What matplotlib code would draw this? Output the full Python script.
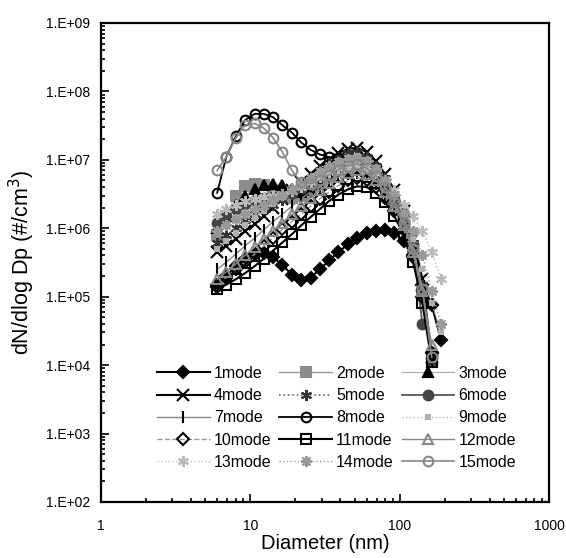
import matplotlib
matplotlib.use('Agg')
import matplotlib.pyplot as plt
from matplotlib.ticker import LogLocator, FixedLocator, FixedFormatter, NullFormatter

plt.rcParams['font.family'] = ['Liberation Sans', 'DejaVu Sans']

# particle diameter grid (nm)
diam = [6.0, 6.9, 8.0, 9.2, 10.7, 12.3, 14.2, 16.4, 19.0, 21.9, 25.3, 29.2, 33.7,
        38.9, 45.0, 51.9, 60.0, 69.2, 80.0, 92.3, 106.6, 123.1, 142.1, 164.1, 189.5]

mode1 = [1.4e5, 2.0e5, 2.8e5, 3.5e5, 4.2e5, 4.4e5, 3.8e5, 2.9e5, 2.1e5, 1.75e5, 1.9e5, 2.5e5, 3.4e5,
         4.5e5, 5.8e5, 7.2e5, 8.4e5, 9.2e5, 9.3e5, 8.5e5, 6.5e5, 3.8e5, 1.5e5, 7.5e4, 2.3e4]
mode2 = [8e5, 1.5e6, 3.0e6, 4.2e6, 4.5e6, 4.3e6, 3.6e6, 3.0e6, 2.8e6, 3.0e6, 3.6e6, 4.6e6, 6.0e6,
         7.6e6, 9.0e6, 9.8e6, 8.5e6, 6.2e6, 4.2e6, 2.6e6, 1.4e6, 5.5e5, 1.3e5, 1.2e4]
mode3 = [1.0e6, 1.5e6, 2.2e6, 3.0e6, 3.8e6, 4.3e6, 4.5e6, 4.3e6, 3.8e6, 3.4e6, 3.6e6, 4.5e6, 6.0e6,
         8.0e6, 1.0e7, 1.1e7, 9.0e6, 6.8e6, 4.5e6, 2.8e6, 1.5e6, 6e5, 1.5e5, 1.5e4]
mode4 = [4.5e5, 5.5e5, 7e5, 9e5, 1.15e6, 1.5e6, 2.0e6, 2.7e6, 3.6e6, 4.8e6, 6.3e6, 8.0e6, 1.0e7,
         1.25e7, 1.45e7, 1.5e7, 1.3e7, 9.5e6, 6.2e6, 3.6e6, 1.8e6, 7e5, 1.8e5, 1.3e4]
mode5 = [6e5, 8e5, 1.0e6, 1.3e6, 1.6e6, 1.9e6, 2.2e6, 2.6e6, 3.2e6, 4.2e6, 5.5e6, 7.2e6, 9.0e6,
         1.1e7, 1.25e7, 1.3e7, 1.1e7, 8.2e6, 5.4e6, 3.2e6, 1.6e6, 6e5, 1.5e5, 1.1e4]
mode6 = [1.2e6, 1.5e6, 1.9e6, 2.3e6, 2.6e6, 2.8e6, 2.9e6, 3.0e6, 3.3e6, 3.9e6, 4.8e6, 6.0e6, 7.5e6,
         9.0e6, 1.0e7, 1.05e7, 9.0e6, 6.8e6, 4.5e6, 2.7e6, 1.4e6, 5.5e5, 4e4]
mode7 = [2.5e5, 3.2e5, 4.2e5, 5.5e5, 7.2e5, 9.5e5, 1.25e6, 1.6e6, 2.1e6, 2.7e6, 3.4e6, 4.2e6, 5.0e6,
         5.8e6, 6.3e6, 6.5e6, 5.7e6, 4.4e6, 3.0e6, 1.9e6, 1.0e6, 4e5, 1e5, 1.2e4]
mode8 = [3.3e6, 1.1e7, 2.2e7, 3.8e7, 4.7e7, 4.7e7, 4.2e7, 3.2e7, 2.5e7, 1.8e7, 1.4e7, 1.2e7, 1.1e7,
         1.05e7, 1.0e7, 9.5e6, 8.0e6, 6.0e6, 4.0e6, 2.4e6, 1.2e6, 4.5e5, 1.2e5, 1.4e4]
mode9 = [5e5, 6.5e5, 8.5e5, 1.1e6, 1.4e6, 1.8e6, 2.3e6, 2.9e6, 3.6e6, 4.5e6, 5.5e6, 6.8e6, 8.2e6,
         9.6e6, 1.08e7, 1.15e7, 1.0e7, 7.6e6, 5.0e6, 3.0e6, 1.6e6, 7e5, 2.5e5, 8e4, 3e4]
mode10 = [1.5e5, 1.9e5, 2.5e5, 3.2e5, 4.2e5, 5.5e5, 7.3e5, 9.6e5, 1.25e6, 1.6e6, 2.1e6, 2.7e6, 3.4e6,
          4.2e6, 5.0e6, 5.5e6, 5.0e6, 4.0e6, 2.8e6, 1.8e6, 9.5e5, 4e5, 1e5, 1.5e4]
mode11 = [1.3e5, 1.5e5, 1.8e5, 2.2e5, 2.8e5, 3.6e5, 4.7e5, 6.2e5, 8.2e5, 1.1e6, 1.45e6, 1.9e6, 2.5e6,
          3.1e6, 3.7e6, 4.1e6, 4.0e6, 3.3e6, 2.4e6, 1.5e6, 8e5, 3.2e5, 8e4, 1.1e4]
mode12 = [1.8e5, 2.3e5, 3.0e5, 4.0e5, 5.3e5, 7.0e5, 9.2e5, 1.2e6, 1.6e6, 2.1e6, 2.8e6, 3.6e6, 4.6e6,
          5.6e6, 6.5e6, 7.0e6, 6.3e6, 5.0e6, 3.4e6, 2.1e6, 1.1e6, 4.5e5, 1.2e5, 2e4]
mode13 = [1.6e6, 1.9e6, 2.2e6, 2.5e6, 2.7e6, 2.9e6, 3.0e6, 3.2e6, 3.5e6, 4.0e6, 4.7e6, 5.6e6, 6.6e6,
          7.6e6, 8.3e6, 8.6e6, 7.8e6, 6.4e6, 5.0e6, 3.6e6, 2.2e6, 1.5e6, 9e5, 4.5e5, 1.8e5]
mode14 = [9e5, 1.1e6, 1.35e6, 1.6e6, 1.9e6, 2.2e6, 2.6e6, 3.1e6, 3.7e6, 4.5e6, 5.5e6, 6.7e6, 8.0e6,
          9.3e6, 1.03e7, 1.08e7, 9.5e6, 7.3e6, 5.0e6, 3.1e6, 1.7e6, 9e5, 4e5, 1.2e5, 4e4]
mode15 = [7e6, 1.1e7, 2.1e7, 3.2e7, 3.4e7, 2.9e7, 2.1e7, 1.3e7, 7e6, 4.7e6, 4.5e6, 5e6, 6e6,
          7.2e6, 8.2e6, 8.7e6, 7.6e6, 5.8e6, 4.0e6, 2.4e6, 1.2e6, 5e5, 1.3e5, 1.3e4]

modes = [mode1, mode2, mode3, mode4, mode5, mode6, mode7, mode8,
         mode9, mode10, mode11, mode12, mode13, mode14, mode15]

# line colour, line style, line width, marker, marker face, marker edge, marker size
styles = [
    ('black', '-', 1.5, 'D', 'black', 'black', 6),
    ('#999999', '-', 1.0, 's', '#8c8c8c', '#8c8c8c', 7),
    ('#aaaaaa', '-', 0.8, '^', 'black', 'black', 7),
    ('black', '-', 1.5, 'x', 'black', 'black', 8),
    ('#666666', ':', 1.2, (6, 2, 0), 'black', '#333333', 8),
    ('#555555', '-', 1.3, 'o', '#444444', '#444444', 7),
    ('#888888', '-', 1.0, '|', 'black', 'black', 9),
    ('black', '-', 1.3, 'o', 'none', 'black', 7),
    ('#b0b0b0', ':', 1.0, 's', '#b0b0b0', '#b0b0b0', 3),
    ('#999999', '--', 1.0, 'D', 'none', 'black', 6),
    ('black', '-', 1.5, 's', 'none', 'black', 7),
    ('#888888', '-', 1.0, '^', 'none', '#888888', 7),
    ('#bbbbbb', ':', 1.0, (6, 2, 0), '#bbbbbb', '#bbbbbb', 8),
    ('#999999', ':', 1.0, (8, 2, 0), '#999999', '#999999', 8),
    ('#888888', '-', 1.2, 'o', 'none', '#888888', 7),
]

fig = plt.figure(figsize=(5.66, 5.58), dpi=100)
ax = fig.add_axes([0.1784, 0.1004, 0.7915, 0.8584])

lines = []
for i, (vals, st) in enumerate(zip(modes, styles)):
    c, ls, lw, mk, mfc, mec, ms = st
    ln, = ax.plot(diam[:len(vals)], vals, color=c, linestyle=ls, linewidth=lw,
                  marker=mk, markerfacecolor=mfc, markeredgecolor=mec, markersize=ms,
                  markeredgewidth=1.5, label='%dmode' % (i + 1))
    lines.append(ln)

ax.set_xscale('log')
ax.set_yscale('log')
ax.set_xlim(1, 1000)
ax.set_ylim(1e2, 1e9)

ax.xaxis.set_major_locator(FixedLocator([1, 10, 100, 1000]))
ax.xaxis.set_major_formatter(FixedFormatter(['1', '10', '100', '1000']))
ax.xaxis.set_minor_locator(LogLocator(base=10, subs=range(2, 10), numticks=20))
ax.xaxis.set_minor_formatter(NullFormatter())
yt = [1e2, 1e3, 1e4, 1e5, 1e6, 1e7, 1e8, 1e9]
ax.yaxis.set_major_locator(FixedLocator(yt))
ax.yaxis.set_major_formatter(FixedFormatter(['1.E+%02d' % k for k in range(2, 10)]))
ax.yaxis.set_minor_locator(LogLocator(base=10, subs=range(2, 10), numticks=20))
ax.yaxis.set_minor_formatter(NullFormatter())

ax.tick_params(which='both', direction='in', top=False, right=False, width=1.2)
ax.tick_params(which='major', length=6)
ax.tick_params(which='minor', length=3)
ax.tick_params(axis='y', labelsize=10, pad=8)
ax.tick_params(axis='x', labelsize=10, pad=12)
for sp in ax.spines.values():
    sp.set_linewidth(1.6)

ax.set_xlabel('Diameter (nm)', fontsize=14.5, labelpad=1)
ax.set_ylabel('dN/dlog Dp (#/cm$^3$)', fontsize=15.5, labelpad=6)

# legend is filled row by row in the reference
order = [0, 3, 6, 9, 12, 1, 4, 7, 10, 13, 2, 5, 8, 11, 14]
ax.legend([lines[k] for k in order], ['%dmode' % (k + 1) for k in order],
          ncol=3, frameon=False, fontsize=11.5, loc='upper left',
          bbox_to_anchor=(0.125, 0.284), borderaxespad=0, borderpad=0,
          handlelength=3.3, handletextpad=0.25, columnspacing=0.5,
          labelspacing=0.45)

fig.savefig('out.png', dpi=100)
